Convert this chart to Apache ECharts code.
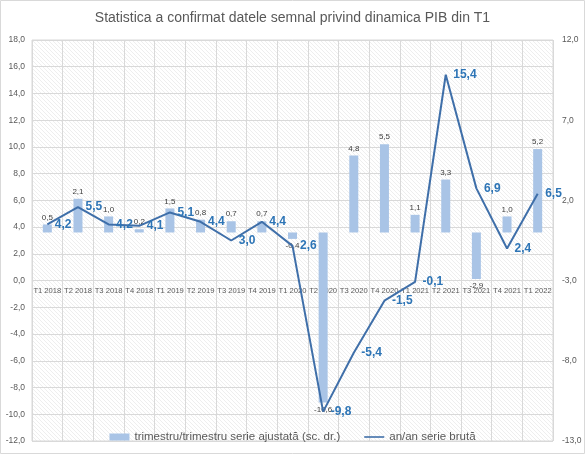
<!DOCTYPE html>
<html><head><meta charset="utf-8">
<script src="https://cdn.jsdelivr.net/npm/echarts@6/dist/echarts.min.js"></script>
<style>html,body{margin:0;padding:0;background:#fff}#c{width:585px;height:454px}</style>
</head><body><div id="c"></div>
<script>
const categories = ['T1 2018','T2 2018','T3 2018','T4 2018','T1 2019','T2 2019','T3 2019','T4 2019','T1 2020','T2 2020','T3 2020','T4 2020','T1 2021','T2 2021','T3 2021','T4 2021','T1 2022'];
const qoqAdjusted = [0.5, 2.1, 1.0, 0.2, 1.5, 0.8, 0.7, 0.7, -0.4, -10.6, 4.8, 5.5, 1.1, 3.3, -2.9, 1.0, 5.2];
const yoyRaw = [4.2, 5.5, 4.2, 4.1, 5.1, 4.4, 3.0, 4.4, 2.6, -9.8, -5.4, -1.5, -0.1, 15.4, 6.9, 2.4, 6.5];
const rightTicks = [-13, -8, -3, 2, 7, 12];
const titleText = 'Statistica a confirmat datele semnal privind dinamica PIB din T1';
const barName = 'trimestru/trimestru serie ajustată (sc. dr.)';
const lineName = 'an/an serie brută';

const fmt = v => Number(v).toFixed(1).replace('.', ',');

const pc = document.createElement('canvas');
pc.width = 4; pc.height = 4;
const g = pc.getContext('2d');
g.fillStyle = '#ffffff'; g.fillRect(0,0,4,4);
g.strokeStyle = '#eeeeee'; g.lineWidth = 1;
g.beginPath(); g.moveTo(0,0); g.lineTo(4,4); g.moveTo(-2,2); g.lineTo(2,6); g.moveTo(2,-2); g.lineTo(6,2); g.stroke();

const H = 454, TOP = 40, BOTTOM = 13, LMIN = -12, LMAX = 18;
const plotH = H - TOP - BOTTOM;
const zeroFromBottom = plotH * (0 - LMIN) / (LMAX - LMIN);

const chart = echarts.init(document.getElementById('c'), null, {renderer:'canvas'});
const font = '"Liberation Sans", Arial, sans-serif';
chart.setOption({
  animation: false,
  textStyle: {fontFamily: font},
  title: {text: titleText, left: 'center', top: 6, textStyle: {fontFamily: font, fontSize: 14, fontWeight: 'normal', color: '#595959'}},
  graphic: [{type:'rect', shape:{x:0.5,y:0.5,width:584,height:453}, style:{fill:'none', stroke:'#d9d9d9', lineWidth:1}, silent:true, z:-1}],
  grid: {left: 32, right: 32, top: TOP, bottom: BOTTOM, show: true, backgroundColor: {image: pc, repeat: 'repeat'}, borderColor: '#d9d9d9', borderWidth: 1},
  legend: {bottom: 6, left: 'center', itemGap: 24, itemWidth: 20, itemHeight: 7, textStyle: {fontSize: 11.5, color: '#595959', fontFamily: font},
    data: [{name: barName, icon: 'rect'}, {name: lineName, icon: 'path://M0,0L20,0L20,1.6L0,1.6Z', itemStyle: {color: '#3f6fa9', opacity: 1}}]},
  xAxis: {type: 'category', data: categories, boundaryGap: true, position: 'bottom', offset: -zeroFromBottom,
    axisLine: {onZero: false, show: false},
    axisTick: {show: false},
    axisLabel: {interval: 0, fontSize: 7.6, color: '#595959', margin: 6},
    splitLine: {show: true, lineStyle: {color: '#d9d9d9'}}},
  yAxis: [
    {type: 'value', min: LMIN, max: LMAX, interval: 2, position: 'left',
      axisLine: {show: false}, axisTick: {show: false},
      axisLabel: {fontSize: 8.5, color: '#595959', formatter: fmt, margin: 7},
      splitLine: {lineStyle: {color: '#d9d9d9'}}},
    {type: 'value', min: -13, max: 12, position: 'right',
      axisLine: {show: false}, axisTick: {show: false},
      axisLabel: {fontSize: 8.5, color: '#595959', formatter: fmt, margin: 9, customValues: rightTicks},
      splitLine: {show: false}}
  ],
  series: [
    {name: barName, type: 'bar', yAxisIndex: 1, barWidth: 9, z: 2,
      itemStyle: {color: '#a9c4e6'},
      data: qoqAdjusted.map(v => ({value: v, label: {position: v >= 0 ? 'top' : 'bottom'}})),
      label: {show: true, fontSize: 8, color: '#404040', distance: 3, formatter: p => fmt(p.value)}},
    {name: lineName, type: 'line', yAxisIndex: 0, symbol: 'circle', symbolSize: 1, showSymbol: true, z: 3,
      lineStyle: {color: '#3f6fa9', width: 2}, itemStyle: {color: '#3f6fa9', opacity: 0},
      data: yoyRaw,
      labelLayout: {hideOverlap: false},
      label: {show: true, position: 'right', distance: 7, fontSize: 12, fontWeight: 'bold', color: '#2e75b6', opacity: 1, formatter: p => fmt(p.value)}}
  ]
});
</script></body></html>
